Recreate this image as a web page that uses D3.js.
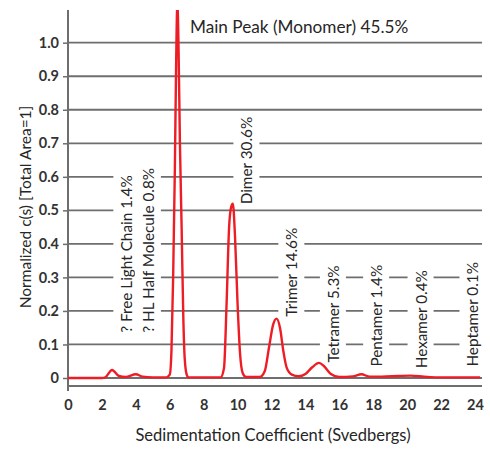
<!DOCTYPE html>
<html>
<head>
<meta charset="utf-8">
<script src="https://cdn.jsdelivr.net/npm/d3@7"></script>
<style>
  html, body { margin: 0; padding: 0; background: #fff; }
  svg { display: block; font-family: Lato, "Open Sans", sans-serif; }
</style>
</head>
<body>
<svg id="chart" width="490" height="450"></svg>
<script>
// Sedimentation coefficient (S) and normalized c(s) distribution
const sValues = [0, 2.0, 2.2, 2.6, 3.0, 3.4, 4.0, 4.4, 5.0, 5.8, 6.0, 6.1, 6.2, 6.3, 6.38, 6.45, 6.52, 6.6, 6.7, 6.8, 6.88, 7.0, 7.1,
  9.0, 9.2, 9.35, 9.5, 9.62, 9.72, 9.85, 10.0, 10.15, 10.3, 10.5,
  11.3, 11.6, 11.85, 12.1, 12.3, 12.5, 12.7, 12.9, 13.2, 13.6, 14.0, 14.4, 14.8, 15.1, 15.5, 16.0,
  16.8, 17.3, 17.8, 18.5, 19.5, 20.2, 21.0, 21.8, 24.3];
const cValues = [0, 0, 0.002, 0.024, 0.006, 0.003, 0.011, 0.004, 0.002, 0.002, 0.01, 0.08, 0.30, 0.62, 0.95, 1.12, 0.98, 0.70, 0.45, 0.18, 0.06, 0.01, 0.002,
  0.002, 0.03, 0.22, 0.45, 0.51, 0.52, 0.42, 0.22, 0.07, 0.015, 0.003,
  0.003, 0.02, 0.09, 0.16, 0.177, 0.15, 0.08, 0.03, 0.01, 0.005, 0.012, 0.032, 0.045, 0.035, 0.012, 0.003,
  0.005, 0.011, 0.004, 0.004, 0.006, 0.007, 0.004, 0.002, 0.002];

const xTicks = [0, 2, 4, 6, 8, 10, 12, 14, 16, 18, 20, 22, 24];
const yTicks = [0, 0.1, 0.2, 0.3, 0.4, 0.5, 0.6, 0.7, 0.8, 0.9, 1.0];
const yTickLabels = ["0", "0.1", "0.2", "0.3", "0.4", "0.5", "0.6", "0.7", "0.8", "0.9", "1.0"];

// Species annotations: label text, sedimentation position and value height for the label foot
const peakLabels = ["? Free Light Chain 1.4%", "? HL Half Molecule 0.8%", "Dimer 30.6%", "Trimer 14.6%",
  "Tetramer 5.3%", "Pentamer 1.4%", "Hexamer 0.4%", "Heptamer 0.1%"];
const peakLabelS = [3.47, 4.74, 10.55, 13.2, 15.65, 18.2, 20.82, 23.88];
const peakLabelC = [0.135, 0.135, 0.518, 0.183, 0.046, 0.034, 0.029, 0.034];
const mainLabel = "Main Peak (Monomer) 45.5%";

const svg = d3.select("#chart");
const x = d3.scaleLinear().domain([0, 24]).range([68, 475]);
const y = d3.scaleLinear().domain([0, 1]).range([378, 42.7]);
const xEnd = 482, yTop = 10, axisY = 386;

// horizontal grid
svg.append("g").selectAll("line").data(yTicks).join("line")
  .attr("x1", x(0)).attr("x2", xEnd)
  .attr("y1", d => y(d)).attr("y2", d => y(d))
  .attr("stroke", "#6e6e6e").attr("stroke-width", 1.8);

// annotation labels on white boxes that break the grid
function rotatedLabel(text, cx, bottom) {
  const g = svg.append("g").attr("transform", `translate(${cx},${bottom}) rotate(-90)`);
  const t = g.append("text").attr("x", 0).attr("y", 0).attr("dy", "0.36em")
    .attr("font-size", 15.3).attr("fill", "#262626").text(text);
  const b = t.node().getBBox();
  g.insert("rect", "text").attr("x", b.x - 2).attr("y", b.y - 4)
    .attr("width", b.width + 4).attr("height", b.height + 8).attr("fill", "#fff");
}
peakLabels.forEach((lbl, i) => rotatedLabel(lbl, x(peakLabelS[i]), y(peakLabelC[i])));

svg.append("text").attr("x", 190).attr("y", 33).attr("font-size", 17.2).attr("fill", "#262626").text(mainLabel);

// axes
svg.append("line").attr("x1", x(0)).attr("x2", x(0)).attr("y1", yTop).attr("y2", 391)
  .attr("stroke", "#6e6e6e").attr("stroke-width", 2);
svg.append("line").attr("x1", x(0)).attr("x2", xEnd).attr("y1", axisY).attr("y2", axisY)
  .attr("stroke", "#6e6e6e").attr("stroke-width", 2);

const yAxis = svg.append("g").attr("transform", `translate(${x(0)},0)`)
  .call(d3.axisLeft(y).tickValues(yTicks).tickSize(5).tickPadding(4).tickFormat((d, i) => yTickLabels[i]));
yAxis.select(".domain").remove();
yAxis.selectAll(".tick line").attr("stroke", "#6e6e6e").attr("stroke-width", 1.5);
yAxis.selectAll(".tick text").attr("font-family", "Lato, sans-serif").attr("font-size", 14.5)
  .attr("font-weight", 700).attr("fill", "#333");

const xAxis = svg.append("g").attr("transform", `translate(0,${axisY})`)
  .call(d3.axisBottom(x).tickValues(xTicks).tickSize(0).tickPadding(14).tickFormat(d3.format("d")));
xAxis.select(".domain").remove();
xAxis.selectAll(".tick text").attr("font-family", "Lato, sans-serif").attr("font-size", 14.5)
  .attr("font-weight", 700).attr("fill", "#333");

// axis titles
svg.append("text").attr("transform", "translate(26,207) rotate(-90)").attr("text-anchor", "middle")
  .attr("dy", "0.35em").attr("font-size", 15.5).attr("fill", "#262626").text("Normalized c(s) [Total Area=1]");
svg.append("text").attr("x", 273).attr("y", 441).attr("text-anchor", "middle")
  .attr("font-size", 16.5).attr("fill", "#262626").text("Sedimentation Coefficient (Svedbergs)");

// distribution curve, clipped at the top of the plot
svg.append("clipPath").attr("id", "plotClip").append("rect")
  .attr("x", x(0)).attr("y", yTop).attr("width", xEnd - x(0)).attr("height", axisY - yTop);
const pts = sValues.map((s, i) => [s, cValues[i]]);
const line = d3.line().x(d => x(d[0])).y(d => y(d[1])).curve(d3.curveMonotoneX);
svg.append("path").attr("clip-path", "url(#plotClip)").attr("d", line(pts))
  .attr("fill", "none").attr("stroke", "#ee1c25").attr("stroke-width", 2.4)
  .attr("stroke-linejoin", "round");
</script>
</body>
</html>
